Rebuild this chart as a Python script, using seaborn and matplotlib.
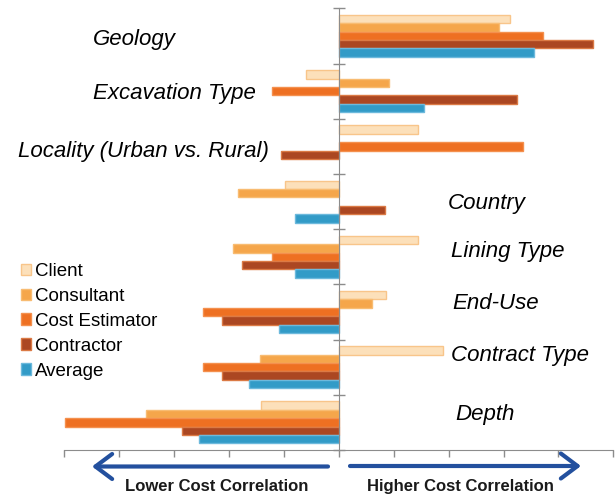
import numpy as np
import pandas as pd
import matplotlib
matplotlib.use("Agg")
import matplotlib.pyplot as plt
import seaborn as sns

# Data (correlation)
categories = ["Geology", "Excavation Type", "Locality (Urban vs. Rural)", "Country",
              "Lining Type", "End-Use", "Contract Type", "Depth"]
series = ["Client", "Consultant", "Cost Estimator", "Contractor", "Average"]
client = [0.623, -0.120, 0.290, -0.196, 0.290, 0.173, 0.379, -0.285]
consultant = [0.585, 0.182, np.nan, -0.369, -0.384, 0.122, -0.288, -0.704]
cost_estimator = [0.745, -0.244, 0.672, np.nan, -0.244, -0.494, -0.494, -0.997]
contractor = [0.925, 0.649, -0.209, 0.170, -0.352, -0.424, -0.424, -0.570]
average = [0.710, 0.311, np.nan, -0.161, -0.161, -0.219, -0.328, -0.511]

face_colors = ["#FCE0BA", "#F5A64B", "#EE7022", "#AB4722", "#329BC7"]
edge_colors = ["#F8C58A", "#F8BC72", "#F4904E", "#DB7A45", "#6CB9DC"]

# label positions (x in data units, y in category units)
left_labels = {"Geology": (-0.897, 0.06), "Excavation Type": (-0.897, 1.05),
               "Locality (Urban vs. Rural)": (-1.17, 2.1)}
right_labels = {"Country": (0.396, 3.04), "Lining Type": (0.407, 3.91),
                "End-Use": (0.414, 4.84), "Contract Type": (0.407, 5.78),
                "Depth": (0.425, 6.85)}

rows = []
for name, vals in zip(series, [client, consultant, cost_estimator, contractor, average]):
    for cat, v in zip(categories, vals):
        rows.append({"Factor": cat, "Role": name, "Correlation": v})
df = pd.DataFrame(rows)

sns.set_style("white")
plt.rcParams["font.family"] = ["Liberation Sans", "DejaVu Sans"]
plt.rcParams["text.color"] = "black"

fig = plt.figure(figsize=(6.15, 5.01), dpi=100)
ax = fig.add_axes([64.3 / 615, 1 - 450 / 501, 549 / 615, (450 - 8.3) / 501])

sns.barplot(data=df, y="Factor", x="Correlation", hue="Role", order=categories,
            hue_order=series, palette=face_colors, saturation=1, orient="h", width=0.76,
            ax=ax, legend=False)

for cont, ec in zip(ax.containers, edge_colors):
    for bar in cont:
        bar.set_edgecolor(ec)
        bar.set_linewidth(1.0)

ax.set_xlim(-1, 1)
ax.set_ylim(7.5, -0.5)
ax.set_xticks(np.arange(-1, 1.01, 0.2))
ax.set_xticklabels([])
ax.set_yticks(np.arange(-0.5, 8, 1))
ax.set_yticklabels([])
ax.set_xlabel("")
ax.set_ylabel("")

for s in ["top", "right"]:
    ax.spines[s].set_visible(False)
ax.spines["left"].set_position(("data", 0))
ax.spines["left"].set_color("#8c8c8c")
ax.spines["bottom"].set_color("#8c8c8c")
ax.tick_params(axis="x", direction="out", length=5, width=1, color="#8c8c8c", bottom=True)
ax.tick_params(axis="y", direction="inout", length=8, width=1, color="#8c8c8c", left=True)

for lab, (x, y) in left_labels.items():
    ax.text(x, y, lab, ha="left", va="center", fontsize=16, style="italic", clip_on=False)
for lab, (x, y) in right_labels.items():
    ax.text(x, y, lab, ha="left", va="center", fontsize=16, style="italic", clip_on=False)

leg = ax.legend(ax.containers, series, loc="upper left",
                bbox_to_anchor=(21 / 615, 1 - 263 / 501), bbox_transform=fig.transFigure,
                frameon=False, fontsize=13.5, handlelength=0.55, handleheight=0.55,
                handletextpad=0.2, labelspacing=0.42, borderpad=0, borderaxespad=0)
for t in leg.get_texts():
    t.set_color("black")

# direction arrows and captions
arrow_color = "#23509E"
fig.patches.append(matplotlib.patches.FancyArrowPatch(
    (328 / 615, 34.5 / 501), (92 / 615, 34.5 / 501), transform=fig.transFigure,
    arrowstyle="->,head_length=0.6,head_width=0.45", color=arrow_color, lw=3,
    mutation_scale=20, shrinkA=0, shrinkB=0))
fig.patches.append(matplotlib.patches.FancyArrowPatch(
    (350 / 615, 35 / 501), (581 / 615, 35 / 501), transform=fig.transFigure,
    arrowstyle="->,head_length=0.6,head_width=0.45", color=arrow_color, lw=3,
    mutation_scale=20, shrinkA=0, shrinkB=0))
fig.text(216.5 / 615, 1 - 486.7 / 501, "Lower Cost Correlation", ha="center", va="center",
         fontsize=12, fontweight="bold", color="#1a1a1a")
fig.text(460 / 615, 1 - 486.7 / 501, "Higher Cost Correlation", ha="center", va="center",
         fontsize=12, fontweight="bold", color="#1a1a1a")

fig.savefig("out.png", dpi=100)
